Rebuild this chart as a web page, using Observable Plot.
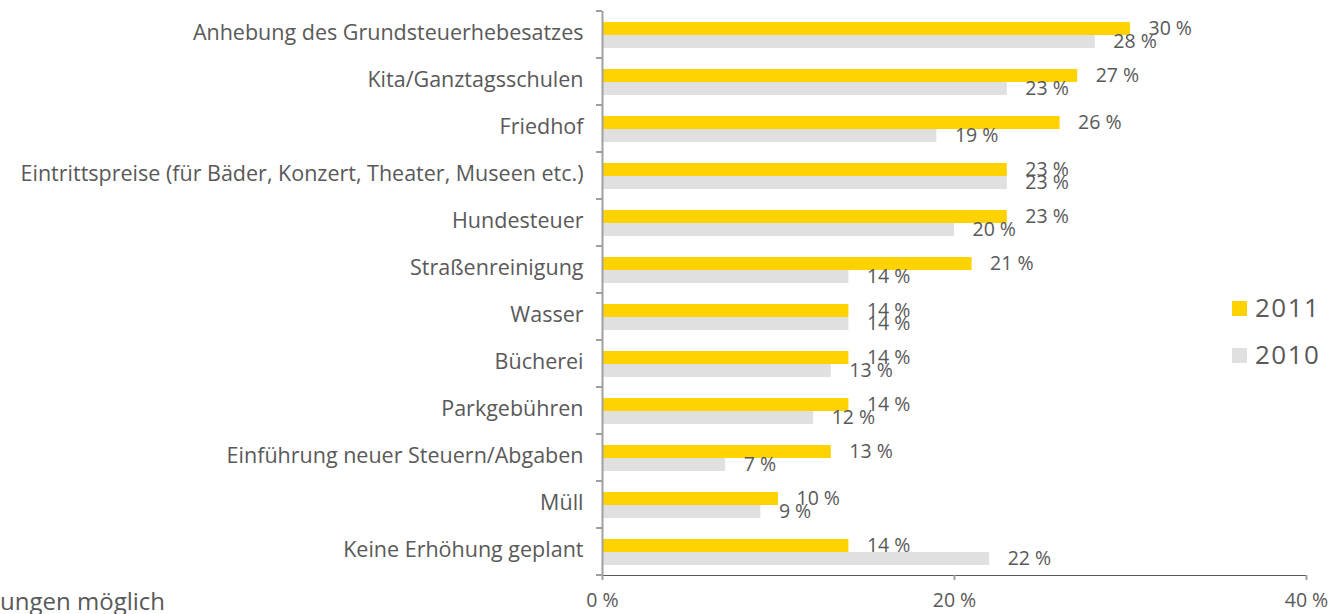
<!DOCTYPE html>
<html>
<head>
<meta charset="utf-8">
<script src="https://cdn.jsdelivr.net/npm/d3@7"></script>
<script src="https://cdn.jsdelivr.net/npm/@observablehq/plot@0.6"></script>
<style>
  html, body { margin: 0; padding: 0; background: #fff; }
  #wrap { position: relative; width: 1332px; height: 614px; overflow: hidden; font-family: "Open Sans", sans-serif; color: #595959; }
  #legend { position: absolute; left: 1232px; top: 284px; font-size: 26px; letter-spacing: 1.5px; line-height: 47px; }
  #legend .sw { display: inline-block; width: 15px; height: 15px; margin-right: 8px; vertical-align: 1px; }
  #note { position: absolute; right: 1167px; top: 584px; font-size: 24px; white-space: nowrap; }
</style>
</head>
<body>
<div id="wrap">
  <div id="chart"></div>
  <div id="legend"></div>
  <div id="note">Mehrfachnennungen möglich</div>
</div>
<script>
const categories = [
  "Anhebung des Grundsteuerhebesatzes",
  "Kita/Ganztagsschulen",
  "Friedhof",
  "Eintrittspreise (für Bäder, Konzert, Theater, Museen etc.)",
  "Hundesteuer",
  "Straßenreinigung",
  "Wasser",
  "Bücherei",
  "Parkgebühren",
  "Einführung neuer Steuern/Abgaben",
  "Müll",
  "Keine Erhöhung geplant"
];
const years = ["2011", "2010"];
const values2011 = [30, 27, 26, 23, 23, 21, 14, 14, 14, 13, 10, 14];
const values2010 = [28, 23, 19, 23, 20, 14, 14, 13, 12, 7, 9, 22];
const xTicks = [0, 20, 40];
const yearColors = ["#FFD200", "#E0E0E0"];

const rows = categories.flatMap((c, i) => [
  {cat: c, year: "2011", value: values2011[i]},
  {cat: c, year: "2010", value: values2010[i]}
]);

const fmt = d => d + " %";

const plot = Plot.plot({
  width: 1332,
  height: 614,
  marginLeft: 602,
  marginRight: 26,
  marginTop: 10,
  marginBottom: 39,
  style: {fontFamily: "'Open Sans', sans-serif", fontSize: "19px", color: "#595959", background: "white", overflow: "visible"},
  x: {domain: [0, 40], ticks: xTicks, tickFormat: fmt, label: null, tickSize: 5, tickPadding: 13, line: true},
  fy: {domain: categories, padding: 0, label: null, axis: "left", tickSize: 0, tickPadding: 19},
  y: {domain: years, paddingInner: 0, paddingOuter: 0.74, axis: null},
  color: {domain: years, range: yearColors},
  marks: [
    Plot.barX(rows, {fy: "cat", y: "year", x: "value", fill: "year"}),
    Plot.ruleX([0], {stroke: "#a0a0a0", strokeWidth: 2}),
    Plot.text(rows, {fy: "cat", y: "year", x: "value", text: d => fmt(d.value), textAnchor: "start", dx: 18, fill: "#595959", fontSize: 19.5})
  ]
});
document.getElementById("chart").appendChild(plot);

const svg = d3.select(plot);
// x axis: lines and tick labels
svg.selectAll("g[aria-label*='x-axis'] path, g[aria-label*='x-axis'] line")
  .style("stroke", "#a0a0a0").style("stroke-width", "2px");
svg.selectAll("g[aria-label^='x-axis'] text").style("font-size", "19.5px");
// category labels
svg.selectAll("g[aria-label*='fy-axis'] text").style("font-size", "21.5px").attr("dy", "-0.1em");

// boundary ticks on category axis
const fy = plot.scale("fy");
const x = plot.scale("x");
const x0 = x.apply(0);
const bounds = categories.map(c => fy.apply(c)).concat([fy.apply(categories[categories.length - 1]) + fy.bandwidth]);
svg.append("g").selectAll("line").data(bounds).join("line")
  .attr("x1", x0 - 6).attr("x2", x0).attr("y1", d => d).attr("y2", d => d)
  .attr("stroke", "#a0a0a0").attr("stroke-width", 2);

// legend
const legend = d3.select("#legend");
years.forEach((y, i) => {
  const row = legend.append("div");
  row.append("span").attr("class", "sw").style("background", yearColors[i]);
  row.append("span").text(y);
});
</script>
</body>
</html>
